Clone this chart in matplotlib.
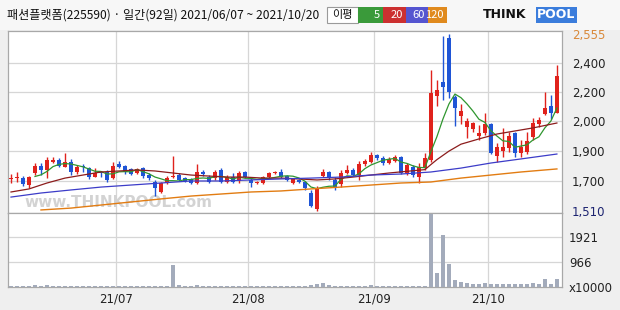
import numpy as np
import pandas as pd
import matplotlib
matplotlib.use('Agg')
import matplotlib.pyplot as plt
from matplotlib.patches import Rectangle

plt.rcParams['font.family'] = ['Noto Sans CJK KR', 'DejaVu Sans']

# trading days 2021/06/07 ~ 2021/10/20 (92 days)
holidays = ['2021-08-16', '2021-09-20', '2021-09-21', '2021-09-22', '2021-10-04', '2021-10-11']
dates = pd.bdate_range('2021-06-07', '2021-10-20').drop(pd.to_datetime(holidays))

opens = [1700, 1705, 1705, 1664, 1735, 1776, 1753, 1800, 1812, 1770,
         1800, 1741, 1776, 1764, 1711, 1741, 1741, 1705, 1788, 1776,
         1759, 1735, 1764, 1723, 1682, 1623, 1676, 1711, 1723, 1705,
         1700, 1676, 1741, 1711, 1705, 1753, 1682, 1711, 1688, 1741,
         1694, 1676, 1676, 1711, 1735, 1741, 1717, 1676, 1694, 1682,
         1617, 1522, 1717, 1741, 1694, 1670, 1735, 1753, 1723, 1788,
         1800, 1841, 1823, 1794, 1806, 1829, 1735, 1770, 1711, 1764,
         1812, 2189, 2272, 2531, 2183, 2071, 2006, 1995, 1953, 1971,
         2024, 1835, 1865, 1882, 1971, 1853, 1859, 1947, 2024, 2083,
         2130, 2089]
highs = [1729, 1741, 1717, 1717, 1794, 1794, 1829, 1829, 1823, 1853,
         1818, 1782, 1788, 1770, 1764, 1747, 1753, 1800, 1806, 1782,
         1764, 1764, 1770, 1735, 1694, 1682, 1717, 1835, 1735, 1711,
         1705, 1788, 1753, 1723, 1753, 1764, 1723, 1735, 1747, 1747,
         1705, 1688, 1717, 1741, 1747, 1759, 1723, 1705, 1700, 1688,
         1635, 1658, 1759, 1747, 1711, 1753, 1782, 1764, 1806, 1818,
         1859, 1847, 1835, 1829, 1841, 1835, 1794, 1782, 1794, 1853,
         2343, 2284, 2543, 2555, 2195, 2142, 2059, 2036, 2018, 2089,
         2030, 1912, 2001, 1977, 1977, 1930, 1977, 2059, 2065, 2213,
         2195, 2372]
lows = [1676, 1682, 1658, 1646, 1723, 1723, 1705, 1794, 1770, 1770,
        1723, 1729, 1741, 1700, 1711, 1711, 1682, 1700, 1764, 1729,
        1723, 1729, 1705, 1694, 1599, 1617, 1670, 1705, 1688, 1682,
        1670, 1670, 1717, 1676, 1694, 1676, 1676, 1676, 1676, 1705,
        1652, 1670, 1670, 1705, 1729, 1705, 1688, 1670, 1676, 1635,
        1534, 1510, 1711, 1694, 1635, 1652, 1729, 1717, 1694, 1776,
        1794, 1812, 1782, 1788, 1800, 1729, 1723, 1711, 1676, 1753,
        1800, 2130, 2166, 2177, 2012, 2024, 1941, 1977, 1930, 1959,
        1847, 1800, 1829, 1859, 1829, 1829, 1847, 1930, 2006, 2077,
        2054, 2089]
closes = [1705, 1711, 1670, 1711, 1776, 1753, 1812, 1812, 1776, 1800,
          1741, 1770, 1770, 1711, 1735, 1735, 1694, 1776, 1770, 1741,
          1729, 1759, 1717, 1705, 1646, 1676, 1705, 1717, 1694, 1688,
          1676, 1741, 1729, 1682, 1741, 1682, 1711, 1682, 1735, 1711,
          1676, 1682, 1711, 1735, 1741, 1711, 1694, 1700, 1682, 1646,
          1540, 1646, 1741, 1711, 1652, 1735, 1753, 1723, 1788, 1806,
          1841, 1823, 1794, 1818, 1829, 1735, 1782, 1723, 1770, 1823,
          2207, 2225, 2242, 2213, 2118, 2101, 2042, 2030, 1971, 2024,
          1853, 1888, 1888, 1953, 1853, 1888, 1924, 2030, 2048, 2118,
          2089, 2307]
# volume, x10000
volume = [30, 25, 30, 40, 60, 50, 60, 50, 30, 30,
          25, 20, 20, 25, 20, 20, 25, 45, 35, 25,
          20, 20, 20, 25, 55, 30, 25, 850, 60, 35,
          25, 60, 30, 20, 20, 25, 20, 20, 20, 20,
          20, 20, 20, 20, 20, 20, 20, 20, 20, 30,
          60, 110, 150, 60, 40, 50, 30, 40, 30, 30,
          60, 50, 30, 25, 25, 30, 25, 25, 25, 30,
          2820, 540, 2010, 890, 270, 190, 150, 110, 100, 150,
          130, 110, 130, 110, 130, 110, 130, 150, 130, 310,
          130, 310]

# moving averages (day index, value)
ma20_x = [0, 3, 6, 9, 12, 15, 18, 21, 24, 27, 30, 33, 36, 39, 42, 45, 48, 51,
          54, 57, 60, 63, 66, 69, 70, 71, 72, 73, 75, 78, 81, 84, 87, 91]
ma20 = [1623, 1641, 1676, 1705, 1723, 1741, 1747, 1753, 1747, 1735, 1723, 1717,
        1711, 1711, 1705, 1705, 1700, 1694, 1700, 1711, 1723, 1735, 1745, 1755,
        1785, 1814, 1839, 1864, 1905, 1936, 1965, 1983, 2001, 2030]
ma60_x = [0, 5, 10, 15, 20, 25, 30, 35, 40, 45, 50, 55, 60, 65, 70, 75, 80, 85, 91]
ma60 = [1593, 1617, 1635, 1652, 1664, 1676, 1688, 1688, 1694, 1700, 1705, 1711,
        1723, 1729, 1741, 1764, 1794, 1818, 1847]
ma120_x = [5, 10, 15, 20, 25, 30, 35, 40, 45, 50, 55, 60, 65, 70, 75, 80, 85, 91]
ma120 = [1517, 1528, 1546, 1564, 1582, 1599, 1611, 1623, 1629, 1641, 1652, 1664,
         1676, 1682, 1705, 1723, 1741, 1759]

price_grid = [2384, 2213, 2042, 1865, 1688]
price_grid_labels = ['2,400', '2,200', '2,000', '1,900', '1,700']
vol_grid = [966, 1921]

RED = '#e0221c'
BLUE = '#1f55d6'
C5, C20, C60, C120 = '#2f962f', '#8c1c1c', '#3c3cc8', '#e27c12'

W, H = 620, 310
fig = plt.figure(figsize=(W / 100, H / 100), dpi=100, facecolor='#efefef')


def fx(x):
    return x / W


def fy(y):
    return 1 - y / H


# header strip
fig.patches.append(Rectangle((0, fy(30)), 1, 30 / H, transform=fig.transFigure,
                             facecolor='#f7f7f7', edgecolor='none'))
fig.text(fx(7), fy(15), '패션플랫폼(225590) · 일간(92일) 2021/06/07 ~ 2021/10/20',
         fontsize=8.7, va='center', ha='left', color='#111111')

# MA legend box
fig.patches.append(Rectangle((fx(327), fy(23)), 31 / W, 16 / H, transform=fig.transFigure,
                             facecolor='white', edgecolor='#9a9a9a', lw=0.8))
fig.text(fx(342), fy(15), '이평', fontsize=8, ha='center', va='center', color='#111111')
for x0, x1, lab, col in [(358, 383, '5', '#3a9a3a'), (383, 406, '20', '#cc3030'),
                         (406, 428, '60', '#5555d0'), (428, 447, '120', '#e08a1e')]:
    fig.patches.append(Rectangle((fx(x0), fy(23)), (x1 - x0) / W, 16 / H,
                                 transform=fig.transFigure, facecolor=col, edgecolor='none'))
    fig.text(fx(x1 - 3), fy(15), lab, fontsize=8, ha='right', va='center', color='white')

# logo
fig.text(fx(483), fy(15), 'THINK', fontsize=9, fontweight='bold', ha='left', va='center',
         color='#111111', family='DejaVu Sans')
fig.text(fx(537), fy(15), 'POOL', fontsize=9, fontweight='bold', ha='left', va='center',
         color='white', family='DejaVu Sans',
         bbox=dict(boxstyle='square,pad=0.1', facecolor='#3b7ddc', edgecolor='none'))

ax = fig.add_axes([fx(8), fy(213), (562 - 8) / W, (213 - 31) / H])
axv = fig.add_axes([fx(8), fy(287), (562 - 8) / W, (287 - 213) / H], sharex=ax)

idx = np.arange(len(dates))
month_pos = [i - 0.5 for i in idx[1:] if dates[i].month != dates[i - 1].month]
month_lab = [dates[i].strftime('%y/%m') for i in idx[1:] if dates[i].month != dates[i - 1].month]

for a in (ax, axv):
    a.set_facecolor('white')
    for s in a.spines.values():
        s.set_color('#a8a8a8')
        s.set_linewidth(0.9)
    for m in month_pos:
        a.axvline(m, color='#d6d6d6', lw=0.9, zorder=0)

for g in price_grid:
    ax.axhline(g, color='#d6d6d6', lw=0.9, zorder=0)
for g in vol_grid:
    axv.axhline(g, color='#d6d6d6', lw=0.9, zorder=0)

# candles
for i in idx:
    o, h, l, c = opens[i], highs[i], lows[i], closes[i]
    col = RED if c >= o else BLUE
    ax.vlines(i, l, h, color=col, lw=1, zorder=3)
    body = max(abs(c - o), 5)
    ax.bar(i, body, bottom=min(o, c), width=0.68, color=col, lw=0, zorder=4)

ma5 = pd.Series(closes).rolling(5).mean()
ax.plot(idx, ma5, color=C5, lw=0.9, zorder=5)
ax.plot(ma20_x, ma20, color=C20, lw=0.9, zorder=5)
ax.plot(ma60_x, ma60, color=C60, lw=0.9, zorder=5)
ax.plot(ma120_x, ma120, color=C120, lw=1.0, zorder=5)

ax.text(0.03, 0.015, 'www.THINKPOOL.com', transform=ax.transAxes, fontsize=11,
        color='#d3d3d3', fontweight='bold', family='DejaVu Sans', ha='left', va='bottom', zorder=1)

ax.set_xlim(-0.5, 91.85)
ax.set_ylim(1499, 2573)
ax.yaxis.tick_right()
ax.set_yticks(price_grid + [2555, 1510])
ax.set_yticklabels(price_grid_labels + ['2,555', '1,510'], family='DejaVu Sans')
ax.tick_params(axis='y', length=0, pad=7, labelsize=8.5, labelcolor='#222222')
ax.get_yticklabels()[-2].set_color('#d9893a')
ax.get_yticklabels()[-1].set_color('#1c2370')
ax.tick_params(axis='x', bottom=False, labelbottom=False)

axv.bar(idx, volume, width=0.68, color='#a3abbb', lw=0, zorder=3)
axv.set_ylim(0, 2860)
axv.yaxis.tick_right()
axv.set_yticks([0] + vol_grid)
axv.set_yticklabels(['x10000', '966', '1921'], family='DejaVu Sans')
axv.tick_params(axis='y', length=0, pad=5, labelsize=8.5, labelcolor='#222222')
axv.set_xticks(month_pos)
axv.set_xticklabels(month_lab, family='DejaVu Sans')
axv.tick_params(axis='x', length=0, pad=4, labelsize=8.5, labelcolor='#222222')

fig.savefig('out.png', dpi=100, facecolor=fig.get_facecolor())
